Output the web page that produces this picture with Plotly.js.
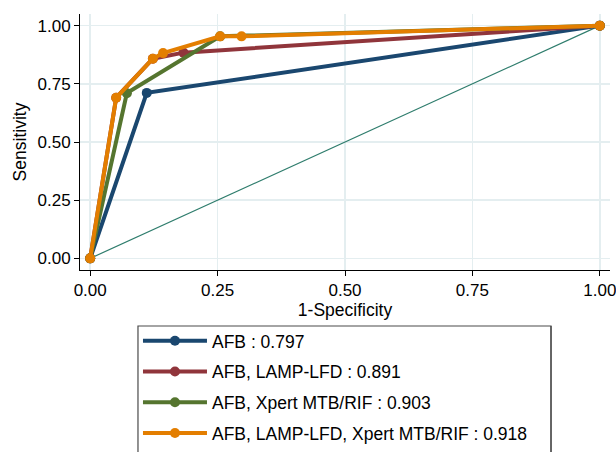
<!DOCTYPE html>
<html><head><meta charset="utf-8">
<script src="https://cdn.plot.ly/plotly-3.0.1.min.js"></script>
<style>body{margin:0;padding:0;background:#fff}#chart{width:616px;height:452px}</style>
</head><body><div id="chart"></div>
<script>
const names = ["AFB : 0.797", "AFB, LAMP-LFD : 0.891", "AFB, Xpert MTB/RIF : 0.903", "AFB, LAMP-LFD, Xpert MTB/RIF : 0.918"];
const afbX = [0, 0.111, 1];
const afbY = [0, 0.711, 1];
const lampX = [0, 0.051, 0.123, 0.183, 1];
const lampY = [0, 0.690, 0.858, 0.884, 1];
const xpertX = [0, 0.072, 0.255, 1];
const xpertY = [0, 0.710, 0.954, 1];
const allX = [0, 0.051, 0.123, 0.143, 0.255, 0.297, 1];
const allY = [0, 0.690, 0.858, 0.882, 0.954, 0.954, 1];
const refX = [0, 1];
const refY = [0, 1];
const tickVals = [0, 0.25, 0.5, 0.75, 1];
const tickText = ["0.00", "0.25", "0.50", "0.75", "1.00"];
const colors = ["#1a476f", "#90353b", "#55752f", "#e37e00"];

const series = [[afbX, afbY], [lampX, lampY], [xpertX, xpertY], [allX, allY]];
const traces = [{
  x: refX, y: refY, type: "scatter", mode: "lines",
  line: {color: "#2f7d6d", width: 1.2}, showlegend: false, hoverinfo: "skip"
}];
series.forEach((s, i) => traces.push({
  x: s[0], y: s[1], type: "scatter", mode: "lines+markers", name: names[i],
  legendgroup: "g" + i,
  line: {color: colors[i], width: 4}, marker: {color: colors[i], size: 10}
}));

const axisCommon = {
  tickvals: tickVals, ticktext: tickText, ticks: "outside", ticklen: 5, tickcolor: "#000",
  showline: true, linecolor: "#000", linewidth: 1, mirror: false,
  showgrid: true, gridcolor: "#e4eef0", gridwidth: 1.5, zeroline: false,
  ticklabeloverflow: "allow",
  tickfont: {family: "Liberation Sans, Arial", size: 17, color: "#000"}
};
const boxLine = {color: "#4a4a4a", width: 1.2};
const layout = {
  width: 616, height: 452,
  margin: {l: 80, r: 6, t: 14, b: 182, autoexpand: false},
  paper_bgcolor: "#fff", plot_bgcolor: "#fff",
  font: {family: "Liberation Sans, Arial", size: 17, color: "#000"},
  xaxis: Object.assign({}, axisCommon, {range: [-0.02, 1.02],
    title: {text: "1-Specificity", standoff: 2, font: {size: 17.5}}}),
  yaxis: Object.assign({}, axisCommon, {range: [-0.05, 1.05],
    title: {text: "Sensitivity", standoff: 6, font: {size: 17.5}}}),
  showlegend: true,
  legend: {x: 0.1094, y: -0.2066, xanchor: "left", yanchor: "top",
    borderwidth: 0, bgcolor: "rgba(255,255,255,0)",
    itemwidth: 64, tracegroupgap: 5, font: {size: 17.5}},
  shapes: [
    {type: "rect", xref: "paper", yref: "paper",
     x0: 0.1094, x1: 0.8887, y0: -0.74, y1: -0.2188,
     line: boxLine, fillcolor: "rgba(0,0,0,0)", layer: "above"},
    {type: "line", xref: "paper", yref: "paper",
     x0: 0.8887, x1: 0.8887, y0: -0.74, y1: -0.2188,
     line: boxLine, layer: "above"}
  ]
};
Plotly.newPlot("chart", traces, layout, {displayModeBar: false, staticPlot: true});
</script></body></html>
